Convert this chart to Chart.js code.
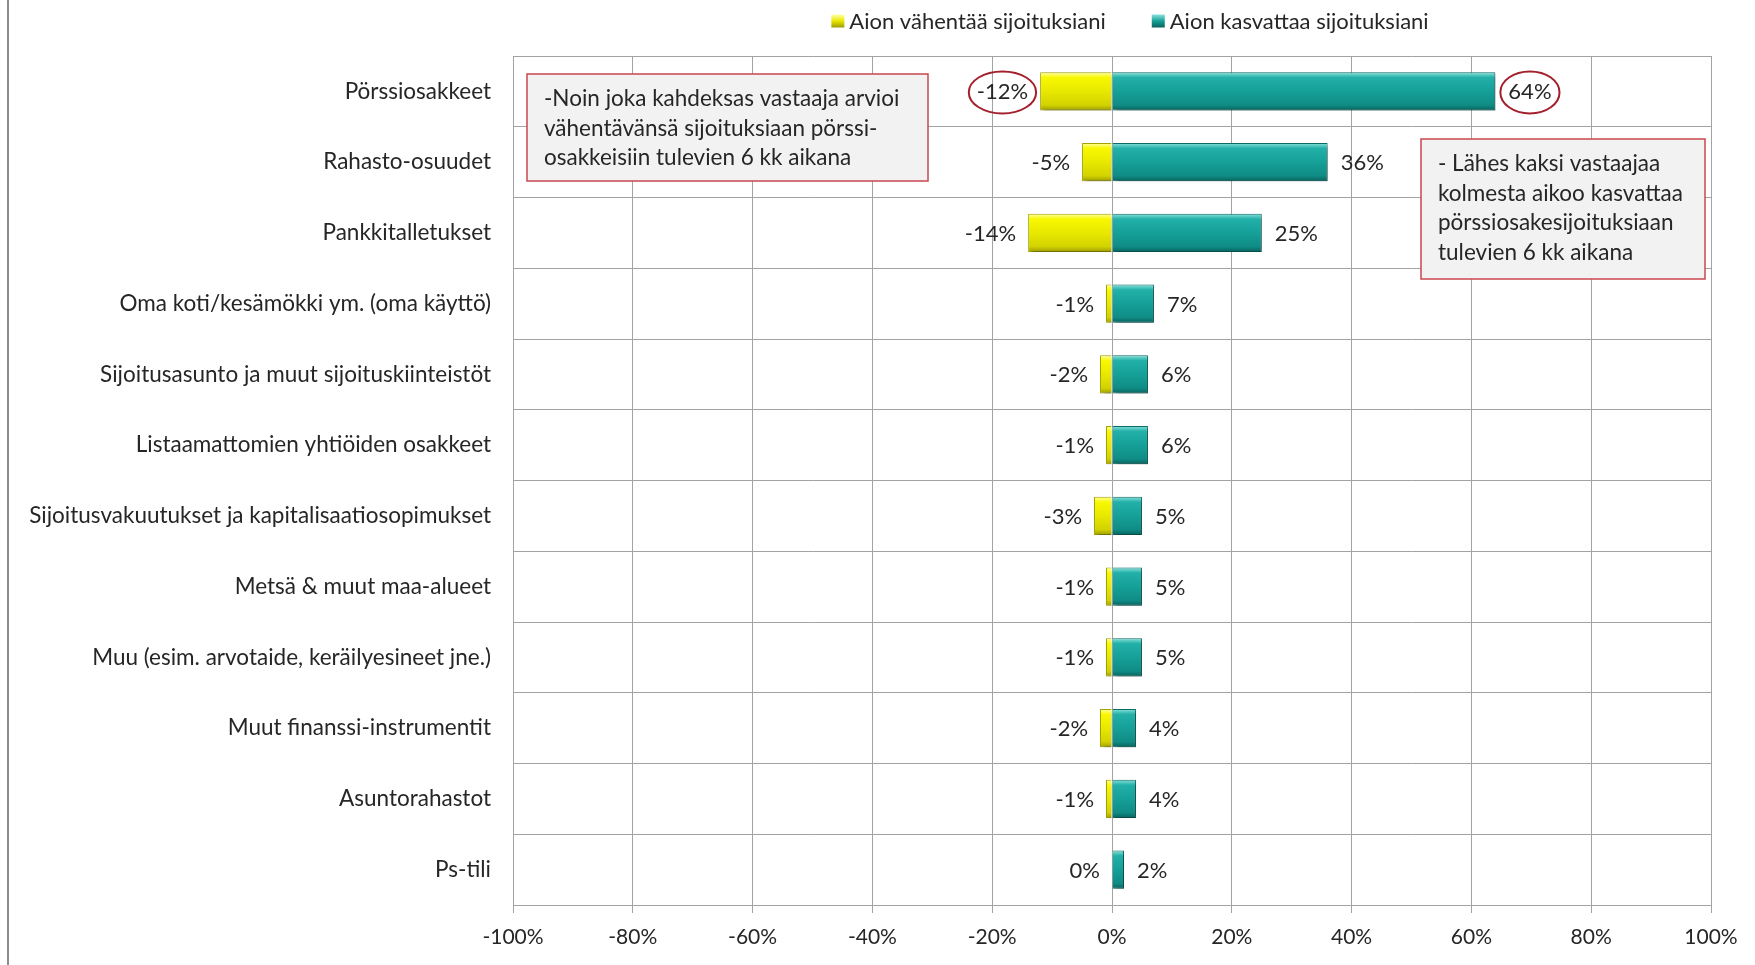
<!DOCTYPE html>
<html>
<head>
<meta charset="utf-8">
<script src="https://cdn.jsdelivr.net/npm/chart.js@4.4.1/dist/chart.umd.min.js"></script>
<style>
    html, body { margin: 0; padding: 0; background: #fff; }
    #wrap { width: 1755px; height: 965px; }
</style>
</head>
<body>
<div id="wrap"><canvas id="barChart" width="1755" height="965"></canvas></div>
<script>
// Sijoitusaikeet seuraavan 6 kk aikana

const categories = [
    'Pörssiosakkeet',
    'Rahasto-osuudet',
    'Pankkitalletukset',
    'Oma koti/kesämökki ym. (oma käyttö)',
    'Sijoitusasunto ja muut sijoituskiinteistöt',
    'Listaamattomien yhtiöiden osakkeet',
    'Sijoitusvakuutukset ja kapitalisaatiosopimukset',
    'Metsä & muut maa-alueet',
    'Muu (esim. arvotaide, keräilyesineet jne.)',
    'Muut finanssi-instrumentit',
    'Asuntorahastot',
    'Ps-tili'
];
const decreaseValues = [-12, -5, -14, -1, -2, -1, -3, -1, -1, -2, -1, 0];
const increaseValues = [64, 36, 25, 7, 6, 6, 5, 5, 5, 4, 4, 2];
const seriesLabels = ['Aion vähentää sijoituksiani', 'Aion kasvattaa sijoituksiani'];
const xMin = -100;
const xMax = 100;
const xStep = 20;

const noteLeft = [
    '-Noin joka kahdeksas vastaaja arvioi',
    'vähentävänsä sijoituksiaan pörssi-',
    'osakkeisiin tulevien 6 kk aikana'
];
const noteRight = [
    '- Lähes kaksi vastaajaa',
    'kolmesta aikoo kasvattaa',
    'pörssiosakesijoituksiaan',
    'tulevien 6 kk aikana'
];

const FONT = 'Lato, "Open Sans", sans-serif';
const TEXT = '#262626';
const GRID = '#a3a3a3';
const BAR_PCT = 0.54;

const palette = {
    yellow: { solid: '#e6e600', stops: ['#ffffa8', '#f8f800', '#e8e800', '#d2d200', '#9c9c00'], border: '#a5a500' },
    teal: { solid: '#14a39b', stops: ['#8ae2db', '#22b0a8', '#15a098', '#0f8c85', '#08625d'], border: '#0b6e69' }
};

function bevelFill(p) {
    return (ctx) => {
        const chart = ctx.chart;
        const y = chart.scales.y;
        if (!y || !chart.chartArea || ctx.dataIndex === undefined) {
            return p.solid;
        }
        const c = y.getPixelForValue(ctx.dataIndex);
        const h = (y.height / categories.length) * BAR_PCT;
        const g = chart.ctx.createLinearGradient(0, c - h / 2, 0, c + h / 2);
        g.addColorStop(0, p.stops[0]);
        g.addColorStop(0.14, p.stops[1]);
        g.addColorStop(0.5, p.stops[2]);
        g.addColorStop(0.86, p.stops[3]);
        g.addColorStop(1, p.stops[4]);
        return g;
    };
}

// kehys vasemmalla reunalla
const framePlugin = {
    id: 'frame',
    beforeDraw(chart) {
        const ctx = chart.ctx;
        ctx.save();
        ctx.fillStyle = '#ffffff';
        ctx.fillRect(0, 0, chart.width, chart.height);
        ctx.strokeStyle = '#8c8c8c';
        ctx.lineWidth = 2;
        ctx.beginPath();
        ctx.moveTo(8, 0);
        ctx.lineTo(8, chart.height);
        ctx.stroke();
        ctx.restore();
    }
};

const shadowPlugin = {
    id: 'shadow',
    beforeDatasetsDraw(chart) {
        const ctx = chart.ctx;
        ctx.save();
        ctx.shadowColor = 'rgba(0,0,0,0.35)';
        ctx.shadowBlur = 4;
        ctx.shadowOffsetX = 3;
        ctx.shadowOffsetY = 3;
    },
    afterDatasetsDraw(chart) {
        chart.ctx.restore();
    }
};

const valueLabelsPlugin = {
    id: 'valueLabels',
    afterDatasetsDraw(chart) {
        const ctx = chart.ctx;
        ctx.save();
        ctx.font = '22px ' + FONT;
        ctx.fillStyle = TEXT;
        ctx.textBaseline = 'middle';
        chart.data.datasets.forEach((ds, di) => {
            const meta = chart.getDatasetMeta(di);
            meta.data.forEach((bar, i) => {
                const v = ds.data[i];
                const txt = v + '%';
                const w = ctx.measureText(txt).width;
                let cx;
                if (di === 0) {
                    ctx.textAlign = 'right';
                    const xr = Math.min(bar.x, bar.base) - 12;
                    ctx.fillText(txt, xr, bar.y + 1);
                    cx = xr - w / 2;
                } else {
                    ctx.textAlign = 'left';
                    const xl = Math.max(bar.x, bar.base) + 13;
                    ctx.fillText(txt, xl, bar.y + 1);
                    cx = xl + w / 2;
                }
                if (i === 0) {
                    ctx.save();
                    ctx.strokeStyle = '#a3202c';
                    ctx.lineWidth = 2;
                    ctx.beginPath();
                    ctx.ellipse(cx, bar.y + 1, w / 2 + 8, 21, 0, 0, Math.PI * 2);
                    ctx.stroke();
                    ctx.restore();
                }
            });
        });
        ctx.restore();
    }
};

function drawNote(ctx, x, y, w, h, lines) {
    ctx.save();
    ctx.fillStyle = '#f2f2f2';
    ctx.fillRect(x, y, w, h);
    ctx.strokeStyle = '#c9474f';
    ctx.lineWidth = 1.5;
    ctx.strokeRect(x, y, w, h);
    ctx.fillStyle = TEXT;
    ctx.font = '22.5px ' + FONT;
    ctx.textAlign = 'left';
    ctx.textBaseline = 'middle';
    lines.forEach((ln, i) => {
        ctx.fillText(ln, x + 17, y + 25 + i * 29.5);
    });
    ctx.restore();
}

const notesPlugin = {
    id: 'notes',
    afterDraw(chart) {
        const ctx = chart.ctx;
        drawNote(ctx, 527, 74, 401, 107, noteLeft);
        drawNote(ctx, 1421, 139, 284, 140, noteRight);
    }
};

// selite ylhäällä
const legendPlugin = {
    id: 'topLegend',
    afterDraw(chart) {
        const ctx = chart.ctx;
        ctx.save();
        ctx.font = '22px ' + FONT;
        ctx.textBaseline = 'middle';
        ctx.textAlign = 'left';
        const box = 13, gap = 5, space = 46;
        const w0 = ctx.measureText(seriesLabels[0]).width;
        const w1 = ctx.measureText(seriesLabels[1]).width;
        const total = box + gap + w0 + space + box + gap + w1;
        let x = 1130 - total / 2;
        const y = 21;
        [palette.yellow, palette.teal].forEach((p, i) => {
            const g = ctx.createLinearGradient(0, y - box / 2, 0, y + box / 2);
            g.addColorStop(0, p.stops[0]);
            g.addColorStop(0.5, p.stops[2]);
            g.addColorStop(1, p.stops[4]);
            ctx.fillStyle = g;
            ctx.fillRect(x, y - box / 2, box, box);
            x += box + gap;
            ctx.fillStyle = TEXT;
            ctx.fillText(seriesLabels[i], x, y + 1);
            x += (i === 0 ? w0 : w1) + space;
        });
        ctx.restore();
    }
};

const ctx = document.getElementById('barChart').getContext('2d');
new Chart(ctx, {
    type: 'bar',
    data: {
        labels: categories,
        datasets: [
            {
                label: seriesLabels[0],
                data: decreaseValues,
                backgroundColor: bevelFill(palette.yellow),
                borderColor: palette.yellow.border,
                borderWidth: 1,
                barPercentage: BAR_PCT,
                categoryPercentage: 1
            },
            {
                label: seriesLabels[1],
                data: increaseValues,
                backgroundColor: bevelFill(palette.teal),
                borderColor: palette.teal.border,
                borderWidth: 1,
                barPercentage: BAR_PCT,
                categoryPercentage: 1
            }
        ]
    },
    options: {
        indexAxis: 'y',
        responsive: false,
        animation: false,
        layout: {
            padding: { left: 0, right: 44, top: 56, bottom: 0 }
        },
        plugins: {
            legend: { display: false },
            tooltip: { enabled: false }
        },
        scales: {
            x: {
                stacked: true,
                min: xMin,
                max: xMax,
                afterFit: (scale) => { scale.height = 60; },
                ticks: {
                    stepSize: xStep,
                    color: TEXT,
                    padding: 12,
                    font: { family: FONT, size: 21 },
                    callback: (v) => v + '%'
                },
                grid: { color: GRID, lineWidth: 1, tickLength: 8 },
                border: { color: GRID }
            },
            y: {
                stacked: true,
                afterFit: (scale) => { scale.width = 513; },
                ticks: {
                    color: TEXT,
                    padding: 22,
                    font: { family: FONT, size: 22.5 }
                },
                grid: { color: GRID, lineWidth: 1, drawTicks: false },
                border: { color: GRID }
            }
        }
    },
    plugins: [framePlugin, shadowPlugin, valueLabelsPlugin, notesPlugin, legendPlugin]
});
</script>
</body>
</html>
